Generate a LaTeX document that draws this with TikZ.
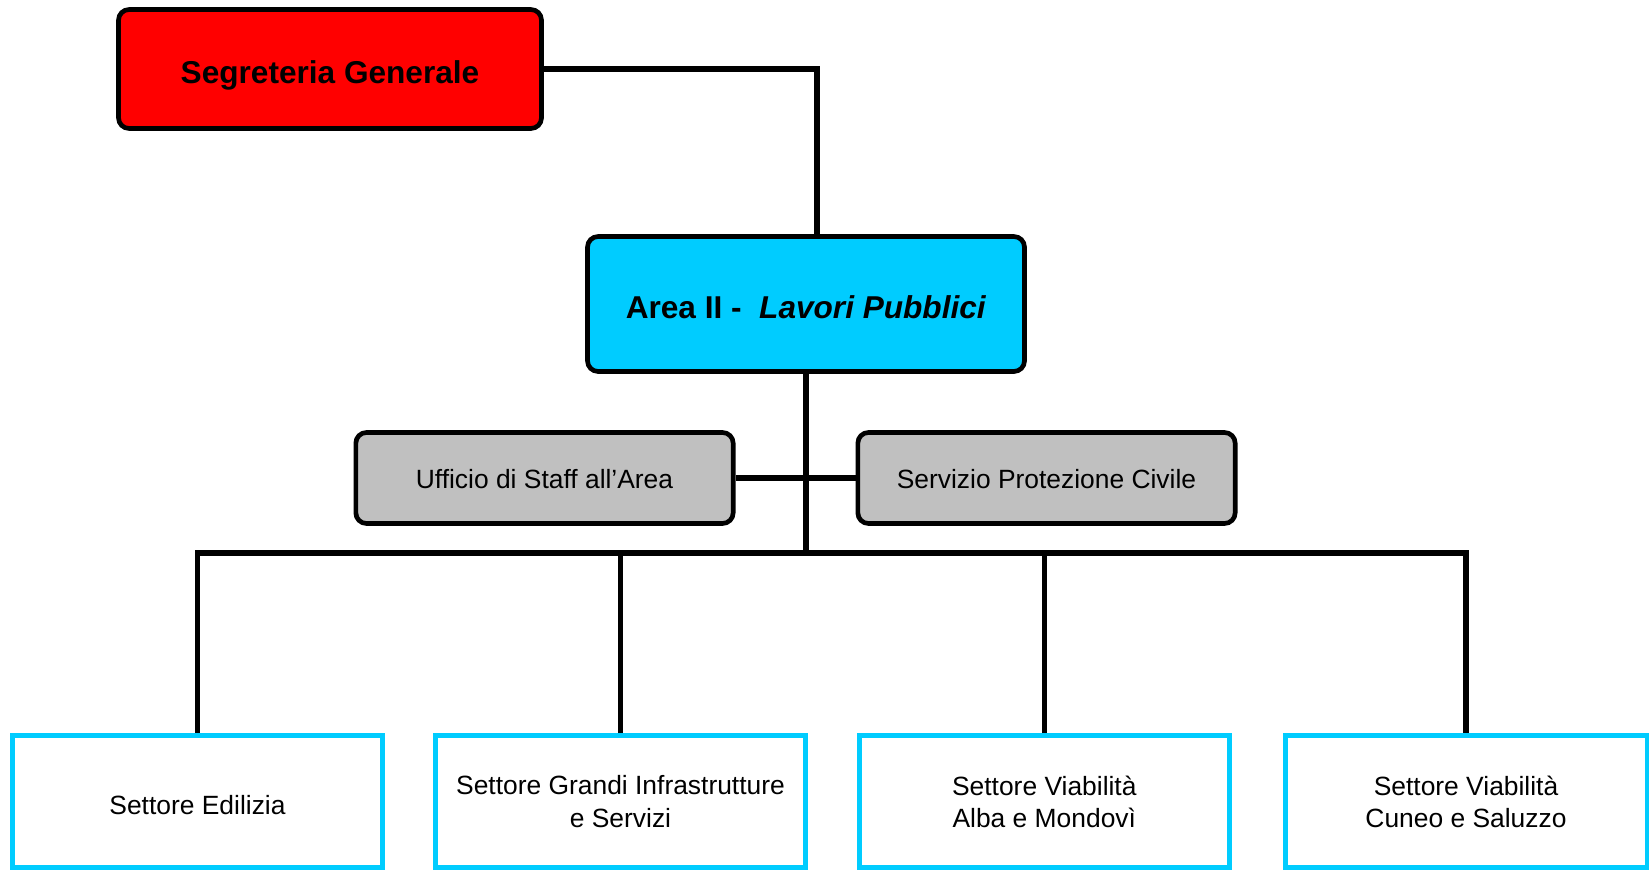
\documentclass[tikz,border=0pt]{standalone}
\usepackage{fontspec}
\setmainfont{Liberation Sans}

\definecolor{segred}{RGB}{255,0,0}
\definecolor{areacyan}{RGB}{0,204,255}
\definecolor{staffgray}{RGB}{192,192,192}

\tikzset{every picture/.style={line width=0.75pt}}
\tikzset{
	headbox/.style={draw=black, line width=3.5pt, rounded corners=8pt, text height=22pt, text depth=0pt, font=\fontsize{23.7}{28}\selectfont\bfseries},
	staffbox/.style={draw=black, fill=staffgray, line width=3.5pt, rounded corners=8pt, minimum width=283pt, minimum height=68.25pt, text height=16pt, text depth=0pt, font=\fontsize{19.8}{24.2}\selectfont},
	settorebox/.style={draw=areacyan, line width=3.75pt, minimum width=277.5pt, minimum height=99pt, align=center, text depth=0pt, font=\fontsize{19.8}{24.2}\selectfont},
	link/.style={line width=3.9pt}
}

\begin{document}
\begin{tikzpicture}[x=0.75pt,y=0.75pt,yscale=-1,xscale=1]
	\useasboundingbox (0,0) rectangle (1649,871);

	% Top boxes
	\node [headbox, fill=segred, minimum width=317.25pt, minimum height=89.25pt] (segr) at (330,69) {Segreteria Generale};
	\node [headbox, fill=areacyan, minimum width=327.75pt, minimum height=101.25pt] (area) at (806,304) {Area II -\ \ \textit{Lavori Pubblici}};

	% Staff boxes
	\node [staffbox] (staff) at (544.5,478) {Ufficio di Staff all’Area};
	\node [staffbox] (civ) at (1046.5,478) {Servizio Protezione Civile};

	\coordinate (bus) at (806.5,553);

	% Settori
	\node [settorebox, text height=19pt] (edil) at (197.5,801.5) {Settore Edilizia};
	\node [settorebox] (infra) at (620.5,801.5) {Settore Grandi Infrastrutture\\e Servizi};
	\node [settorebox] (albamon) at (1044.3,801.5) {Settore Viabilità\\Alba e Mondovì};
	\node [settorebox, minimum width=271.5pt] (cunsal) at (1466,801.5) {Settore Viabilità\\Cuneo e Saluzzo};

	% Connectors
	\draw [link] (segr.east) -| ([xshift=8.25pt]area.north);
	\draw [link] (area.south) -- (area.south |- bus);
	\draw [link] (staff.east) -- (civ.west);
	\draw [link] (edil.north) |- (bus) -| (cunsal.north);
	\draw [link] (infra.north) -- (infra.north |- bus);
	\draw [link] (albamon.north) -- (albamon.north |- bus);

\end{tikzpicture}
\end{document}
